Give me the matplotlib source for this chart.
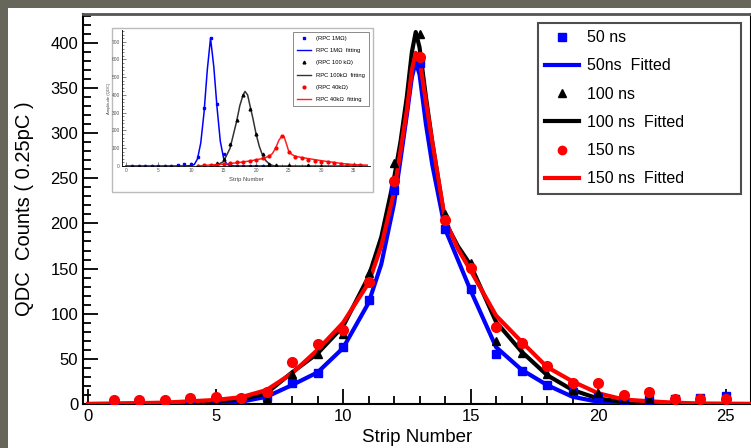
import numpy as np
import matplotlib.pyplot as plt
from matplotlib.patches import Rectangle
from matplotlib.lines import Line2D
from matplotlib.ticker import MultipleLocator

plt.rcParams['font.family'] = ['Liberation Sans', 'DejaVu Sans']

# ---- main data: QDC counts per strip ----
strips = list(range(1, 26))
q_50ns = [1, 2, 2, 3, 4, 5, 8, 23, 34, 63, 115, 237, 378, 194, 127, 55, 37, 21, 13, 8, 3, 4, 6, 7, 9]
q_100ns = [1, 2, 2, 3, 4, 5, 6, 33, 55, 78, 145, 267, 410, 210, 156, 70, 57, 33, 16, 12, 5, 6, 3, 2, 2]
q_150ns = [4, 4, 4, 7, 8, 7, 13, 47, 67, 82, 135, 247, 384, 204, 151, 85, 68, 42, 23, 23, 10, 13, 5, 5, 5]

# fitted curves
fit_x = [0, 1, 2, 3, 4, 5, 6, 7, 8, 9, 10, 11, 11.5, 12, 12.25, 12.5, 12.7, 12.85, 13.0,
         13.25, 13.5, 14, 14.5, 15, 16, 17, 18, 19, 20, 21, 22, 23, 24, 26]
fit_50ns = [0, 0, 0, 0, 0.5, 1, 2.5, 8, 21, 35, 62, 112, 155, 222, 270, 320, 362, 379, 365,
            310, 265, 194, 160, 126, 63, 38, 21, 8, 2.5, 0.5, 0, 0, 0, 0]
fit_100ns = [0, 0, 0.5, 1, 2, 3, 5, 12, 35, 56, 86, 141, 185, 250, 290, 340, 390, 412, 395,
             340, 290, 202, 175, 154, 91, 58, 32, 15.5, 6, 2.5, 1, 0, 0, 0]
fit_150ns = [0, 0.5, 1, 1.5, 3, 4.5, 7.5, 15.5, 34, 60, 90, 134, 175, 235, 280, 325, 370, 389, 382,
             335, 290, 204, 172, 148, 98, 69, 41, 25, 12, 5, 3, 1.5, 0.5, 0]

# ---- inset data ----
in_strips_1m = list(range(1, 23))
in_1m = [0, 0, 0, 0, 0, 0, 0, 5, 10, 10, 50, 325, 720, 350, 65, 5, 0, 0, 0, 0, 0, 0]
in_strips_100k = [14, 15, 16, 17, 18, 19, 20, 21, 22, 23, 25, 28, 30]
in_100k = [15, 40, 125, 260, 400, 320, 180, 70, 10, 3, 5, 3, 2]
in_strips_40k = list(range(11, 37))
in_40k = [2, 5, 6, 8, 10, 15, 20, 25, 30, 35, 45, 55, 100, 170, 80, 50, 45, 35, 30, 25,
          20, 15, 10, 8, 5, 3]

in_fit_x_1m = [0, 9, 10, 10.5, 11, 11.5, 12, 12.5, 13, 13.5, 14, 14.5, 15, 15.5, 16, 17, 22]
in_fit_1m = [0, 0, 2, 8, 40, 130, 300, 540, 720, 560, 330, 140, 45, 10, 2, 0, 0]
in_fit_x_100k = [13.5, 14, 15, 16, 17, 17.5, 18, 18.3, 18.7, 19, 19.5, 20, 20.5, 21, 21.5, 22,
                 22.5, 23, 37]
in_fit_100k = [0, 5, 25, 100, 250, 340, 400, 420, 400, 350, 270, 180, 110, 60, 30, 12, 3, 0, 0]
in_fit_x_40k = [11, 12, 13, 14, 15, 16, 17, 18, 19, 20, 21, 22, 22.5, 23, 23.5, 24, 24.3, 24.7,
                25, 25.5, 26, 27, 28, 29, 30, 31, 32, 33, 34, 35, 36, 37]
in_fit_40k = [0, 3, 6, 8, 10, 14, 18, 23, 28, 35, 42, 55, 70, 100, 145, 170, 165, 120,
              85, 65, 55, 48, 42, 36, 30, 25, 20, 15, 11, 8, 6, 5]

W, H = 751, 448
fig = plt.figure(figsize=(W / 100, H / 100), dpi=100)
fig.patch.set_facecolor('#66665a')
fig.patches.append(Rectangle((8 / W, 0), 1, 1 - 8 / H, transform=fig.transFigure,
                             facecolor='white', edgecolor='none', zorder=-5))

ax = fig.add_axes([83 / W, 44 / H, 668 / W, 390 / H])
ax.set_zorder(1)
ax.set_xlim(-0.2, 26)
ax.set_ylim(0, 432)

ax.plot(fit_x, fit_50ns, color='#0000ff', lw=3, zorder=3)
ax.plot(fit_x, fit_100ns, color='black', lw=3, zorder=3)
ax.plot(fit_x, fit_150ns, color='#ff0000', lw=3, zorder=4)
ax.plot(strips, q_50ns, 's', color='#0000ff', ms=6, zorder=5)
ax.plot(strips, q_100ns, '^', color='black', ms=6, zorder=5)
ax.plot(strips, q_150ns, 'o', color='#ff0000', ms=7, zorder=5)

ax.xaxis.set_major_locator(MultipleLocator(5))
ax.xaxis.set_minor_locator(MultipleLocator(1))
ax.yaxis.set_major_locator(MultipleLocator(50))
ax.yaxis.set_minor_locator(MultipleLocator(10))
ax.tick_params(which='both', direction='in', width=1.3, labelsize=12, top=False, right=False)
ax.tick_params(which='major', length=11)
ax.tick_params(which='minor', length=6)
for s in ['left', 'bottom']:
    ax.spines[s].set_linewidth(1.5)
ax.spines['top'].set_color('#555555')
ax.spines['top'].set_linewidth(2)
ax.spines['right'].set_linewidth(1.5)
ax.set_xlabel('Strip Number', fontsize=13.5, labelpad=4)
ax.set_ylabel('QDC  Counts ( 0.25pC )', fontsize=14.5, labelpad=12)

handles = [
    Line2D([], [], ls='none', marker='s', color='#0000ff', ms=6),
    Line2D([], [], color='#0000ff', lw=3),
    Line2D([], [], ls='none', marker='^', color='black', ms=6),
    Line2D([], [], color='black', lw=3),
    Line2D([], [], ls='none', marker='o', color='#ff0000', ms=6),
    Line2D([], [], color='#ff0000', lw=3),
]
labels = ['50 ns', '50ns  Fitted', '100 ns', '100 ns  Fitted', '150 ns', '150 ns  Fitted']
leg = ax.legend(handles, labels, loc='upper left',
                bbox_to_anchor=(538 / W, 1 - 193 / H, 203 / W, 170 / H), mode='expand',
                borderaxespad=0, bbox_transform=fig.transFigure, fontsize=11.5, frameon=True,
                fancybox=False, edgecolor='#222222', labelspacing=0.83, handlelength=2.1,
                borderpad=0.45, handletextpad=0.5)
leg.get_frame().set_linewidth(1.5)

# ---- inset ----
fig.patches.append(Rectangle((112 / W, 1 - 192 / H), 261 / W, 164 / H, transform=fig.transFigure,
                             facecolor='white', edgecolor='#bbbbbb', lw=1, zorder=2))
ins = fig.add_axes([122 / W, 1 - 166 / H, 248 / W, 136 / H])
ins.set_zorder(6)
ins.set_xlim(-0.6, 37.5)
ins.set_ylim(0, 766)
ins.plot(in_fit_x_1m, in_fit_1m, color='#0000ff', lw=1.1)
ins.plot(in_fit_x_100k, in_fit_100k, color='#333333', lw=1.1)
ins.plot(in_fit_x_40k, in_fit_40k, color='#ff2020', lw=1.1)
ins.plot(in_strips_1m, in_1m, 's', color='#0000ff', ms=2)
ins.plot(in_strips_100k, in_100k, '^', color='black', ms=2)
ins.plot(in_strips_40k, in_40k, 'o', color='#ff0000', ms=2)
ins.xaxis.set_major_locator(MultipleLocator(5))
ins.xaxis.set_minor_locator(MultipleLocator(1))
ins.yaxis.set_major_locator(MultipleLocator(100))
ins.yaxis.set_minor_locator(MultipleLocator(20))
ins.tick_params(which='both', direction='in', width=0.5, labelsize=3.5, pad=1.5,
                top=False, right=False, colors='#555555')
ins.tick_params(which='major', length=3)
ins.tick_params(which='minor', length=1.5)
for s in ['top', 'right']:
    ins.spines[s].set_visible(False)
for s in ['left', 'bottom']:
    ins.spines[s].set_linewidth(0.6)
ins.set_xlabel('Strip Number', fontsize=4.2, labelpad=3, color='#444444')
ins.set_ylabel('Amplitude (QDC)', fontsize=3, labelpad=0.5, color='#444444')
ih = [
    Line2D([], [], ls='none', marker='s', color='#0000ff', ms=2),
    Line2D([], [], color='#0000ff', lw=1),
    Line2D([], [], ls='none', marker='^', color='black', ms=2),
    Line2D([], [], color='#333333', lw=1),
    Line2D([], [], ls='none', marker='o', color='#ff0000', ms=2),
    Line2D([], [], color='#ff2020', lw=1),
]
il = ['(RPC 1M\u03a9)', 'RPC 1M\u03a9  fitting', '(RPC 100 k\u03a9)', 'RPC 100k\u03a9  fitting',
      '(RPC 40k\u03a9)', 'RPC 40k\u03a9  fitting']
ileg = ins.legend(ih, il, loc='upper left',
                  bbox_to_anchor=(293 / W, 1 - 108 / H, 76 / W, 76 / H), mode='expand',
                  borderaxespad=0, bbox_transform=fig.transFigure, fontsize=4.2, frameon=True,
                  fancybox=False, edgecolor='#555555', labelspacing=1.25, handlelength=2.5,
                  borderpad=0.6)
ileg.get_frame().set_linewidth(0.6)

fig.savefig('out.png', dpi=100)
